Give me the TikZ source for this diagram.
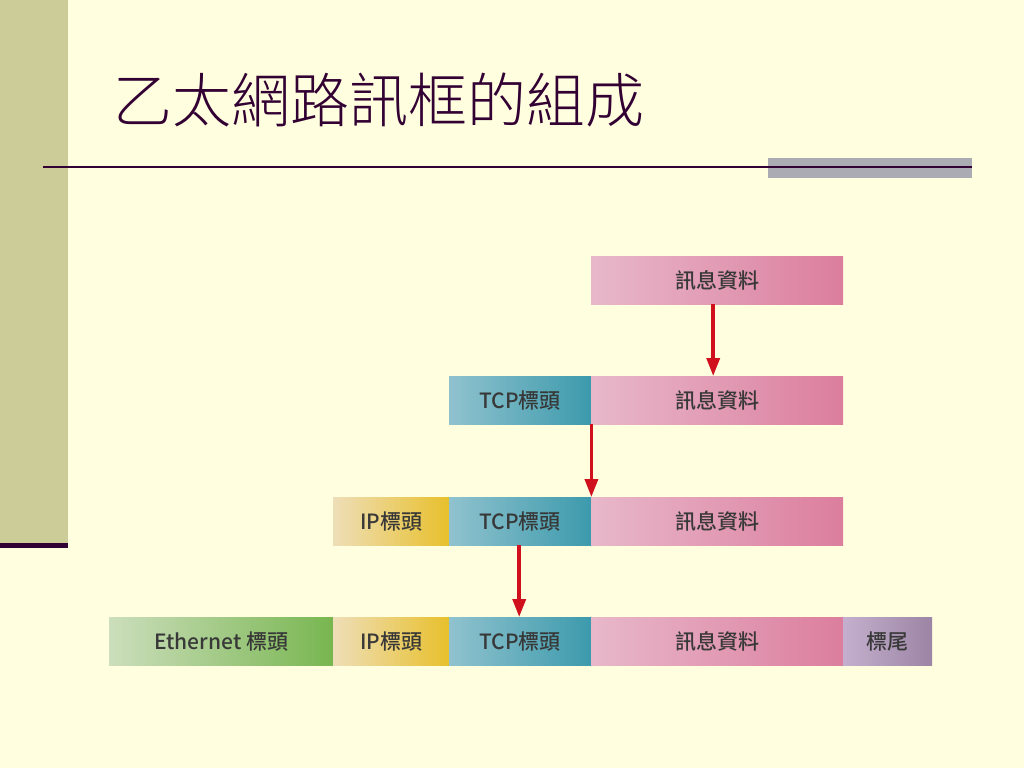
\documentclass[tikz,border=0pt]{standalone}
\usepackage{fontspec}
\setmainfont{Noto Sans CJK TC}
\newfontfamily\cjktitle{Noto Sans CJK TC Light}
\newfontfamily\cjkbox{Noto Sans CJK TC Medium}
\usetikzlibrary{arrows.meta}
\definecolor{bgc}{HTML}{FFFFE0}
\definecolor{barc}{HTML}{CCCC99}
\definecolor{linec}{HTML}{330033}
\definecolor{grayc}{HTML}{ABABB3}
\definecolor{txtc}{HTML}{383838}
\definecolor{redc}{HTML}{D0101C}
\definecolor{msgL}{HTML}{E8B8CA}
\definecolor{msgR}{HTML}{DC7E9E}
\definecolor{tcpL}{HTML}{90C2CE}
\definecolor{tcpR}{HTML}{3C9AAC}
\definecolor{ipL}{HTML}{EEDEB8}
\definecolor{ipR}{HTML}{E8C02C}
\definecolor{ethL}{HTML}{CCDEBC}
\definecolor{ethR}{HTML}{78B650}
\definecolor{trlL}{HTML}{C4B0CE}
\definecolor{trlR}{HTML}{9C84A4}
\tikzset{
  seg/.style={rectangle, anchor=north west, inner sep=0pt, minimum height=48pt,
    text=txtc, font=\cjkbox\fontsize{21}{21}\selectfont},
  msgseg/.style={seg, minimum width=252pt, left color=msgL, right color=msgR},
  tcpseg/.style={seg, minimum width=142pt, left color=tcpL, right color=tcpR},
  ipseg/.style={seg, minimum width=116pt, left color=ipL, right color=ipR},
  ethseg/.style={seg, minimum width=224pt, left color=ethL, right color=ethR},
  trlseg/.style={seg, minimum width=89pt, left color=trlL, right color=trlR},
  redarrow/.style={draw=redc, line width=3.5pt, -{Triangle[width=13pt,length=18pt]}, redc}
}
\begin{document}
\begin{tikzpicture}[x=1pt,y=-1pt]
\useasboundingbox (0,0) rectangle (1024,768);
\fill[bgc] (0,0) rectangle (1024,768);
% left bar
\fill[barc] (0,0) rectangle (68,543);
\fill[linec] (0,543) rectangle (68,548);
% title
\node[anchor=west, text=linec, inner sep=0pt, font=\cjktitle\fontsize{59}{59}\selectfont] (title) at (113,100) {乙太網路訊框的組成};
% rule
\fill[grayc] (768,158) rectangle (972,178);
\draw[linec, line width=2pt] (43,166.5) -- (972,166.5);
% row 1
\node[msgseg] (m1) at (591,256) {訊息資料};
% row 2
\node[tcpseg] (t2) at (449,376) {TCP標頭};
\node[msgseg] (m2) at (591,376) {訊息資料};
% row 3
\node[ipseg] (i3) at (333,497) {IP標頭};
\node[tcpseg] (t3) at (449,497) {TCP標頭};
\node[msgseg] (m3) at (591,497) {訊息資料};
% row 4
\node[ethseg] (e4) at (109,617) {Ethernet 標頭};
\node[ipseg] (i4) at (333,617) {IP標頭};
\node[tcpseg] (t4) at (449,617) {TCP標頭};
\node[msgseg] (m4) at (591,617) {訊息資料};
\node[trlseg] (r4) at (843,617) {標尾};
% arrows
\draw[redarrow] ([xshift=-4pt]m1.south) -- ([xshift=-4pt]m2.north);
\draw[redarrow] (t2.south east) -- (t3.north east);
\draw[redarrow] ([xshift=-1pt]t3.south) -- ([xshift=-1pt]t4.north);
\end{tikzpicture}
\end{document}
